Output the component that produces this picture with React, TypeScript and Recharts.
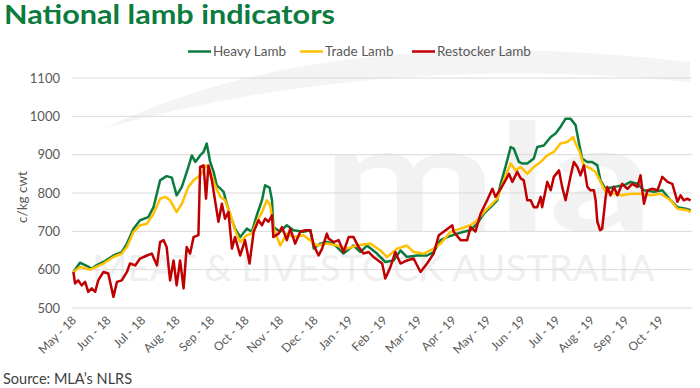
import React from "react";
import { LineChart, Line, XAxis, YAxis, CartesianGrid } from "recharts";

// Month tick labels (x = months since 1 May 2018)
const monthLabels = [
  "May - 18", "Jun - 18", "Jul - 18", "Aug - 18", "Sep - 18", "Oct - 18",
  "Nov - 18", "Dec - 18", "Jan - 19", "Feb - 19", "Mar - 19", "Apr - 19",
  "May - 19", "Jun - 19", "Jul - 19", "Aug - 19", "Sep - 19", "Oct - 19",
];
const monthTicks = monthLabels.map((_, i) => i);
const yTicks = [500, 600, 700, 800, 900, 1000, 1100];

// [months since May-18, c/kg cwt]
const heavyLamb: [number, number][] = [
  [0.04, 594], [0.23, 618], [0.38, 612], [0.57, 603], [0.72, 612], [0.91, 620], [1.2, 637], [1.44, 646],
  [1.59, 668], [1.78, 707], [1.97, 729], [2.21, 737], [2.36, 763], [2.55, 833], [2.74, 844], [2.89, 840],
  [3.03, 794], [3.18, 816], [3.37, 868], [3.47, 898], [3.57, 881], [3.71, 898], [3.81, 907], [3.9, 929],
  [4.0, 881], [4.1, 855], [4.19, 820], [4.29, 812], [4.39, 803], [4.48, 772], [4.58, 742], [4.72, 707],
  [4.87, 685], [5.06, 707], [5.21, 699], [5.35, 742], [5.5, 781], [5.59, 820], [5.72, 814], [5.79, 781],
  [5.83, 711], [6.03, 699], [6.22, 716], [6.41, 703], [6.7, 699], [6.9, 703], [7.0, 655], [7.19, 668],
  [7.38, 672], [7.57, 668], [7.86, 642], [8.15, 663], [8.35, 646], [8.54, 663], [8.83, 642], [9.07, 620],
  [9.31, 624], [9.51, 650], [9.7, 633], [9.99, 637], [10.28, 637], [10.47, 646], [10.67, 677], [10.86, 685],
  [11.15, 694], [11.34, 699], [11.54, 703], [11.73, 720], [11.92, 746], [12.12, 763], [12.31, 781], [12.41, 824],
  [12.55, 868], [12.7, 920], [12.79, 916], [12.94, 881], [13.03, 877], [13.18, 877], [13.37, 890], [13.47, 920],
  [13.66, 924], [13.86, 946], [14.0, 955], [14.14, 972], [14.29, 994], [14.43, 994], [14.58, 977], [14.68, 929],
  [14.77, 890], [14.92, 881], [15.06, 881], [15.21, 872], [15.3, 833], [15.45, 811], [15.69, 816], [15.98, 820],
  [16.17, 829], [16.37, 824], [16.56, 807], [16.85, 803], [17.09, 807], [17.33, 781], [17.53, 763], [17.77, 759],
  [17.91, 755],
];

const tradeLamb: [number, number][] = [
  [0.04, 594], [0.23, 607], [0.52, 600], [0.91, 616], [1.2, 633], [1.44, 642], [1.59, 659], [1.78, 698],
  [1.97, 716], [2.17, 720], [2.36, 746], [2.55, 785], [2.7, 790], [2.84, 781], [3.03, 750], [3.18, 772],
  [3.37, 816], [3.52, 833], [3.71, 846], [3.9, 872], [4.0, 859], [4.14, 820], [4.29, 790], [4.43, 781],
  [4.58, 746], [4.72, 703], [4.87, 672], [5.06, 690], [5.21, 694], [5.35, 725], [5.5, 750], [5.64, 781],
  [5.74, 768], [5.83, 711], [6.03, 663], [6.22, 694], [6.41, 685], [6.7, 690], [7.09, 663], [7.38, 668],
  [7.67, 663], [7.96, 655], [8.25, 663], [8.64, 668], [8.93, 650], [9.12, 633], [9.41, 655], [9.7, 663],
  [9.89, 646], [10.18, 642], [10.47, 655], [10.67, 668], [10.96, 699], [11.25, 707], [11.54, 716], [11.73, 729],
  [11.92, 750], [12.17, 772], [12.31, 785], [12.5, 833], [12.7, 877], [12.84, 859], [12.99, 868], [13.18, 850],
  [13.37, 868], [13.57, 881], [13.76, 898], [13.95, 907], [14.14, 929], [14.34, 933], [14.51, 946], [14.58, 929],
  [14.68, 911], [14.82, 872], [15.01, 864], [15.16, 855], [15.3, 829], [15.45, 803], [15.69, 798], [15.93, 794],
  [16.17, 798], [16.46, 798], [16.75, 794], [17.04, 798], [17.33, 781], [17.53, 759], [17.82, 755], [17.91, 750],
];

const restockerLamb: [number, number][] = [
  [0.04, 594], [0.09, 564], [0.18, 572], [0.28, 559], [0.38, 568], [0.47, 542], [0.57, 551], [0.67, 542],
  [0.76, 572], [0.91, 594], [1.05, 590], [1.2, 529], [1.3, 568], [1.44, 572], [1.59, 594], [1.68, 616],
  [1.83, 611], [1.97, 629], [2.17, 637], [2.31, 642], [2.46, 611], [2.55, 672], [2.65, 677], [2.74, 659],
  [2.84, 572], [2.94, 624], [3.03, 559], [3.13, 624], [3.23, 551], [3.32, 659], [3.42, 642], [3.52, 685],
  [3.66, 690], [3.71, 868], [3.81, 872], [3.88, 785], [3.95, 872], [4.05, 833], [4.14, 781], [4.24, 725],
  [4.34, 772], [4.43, 733], [4.53, 750], [4.63, 655], [4.72, 685], [4.87, 637], [5.01, 677], [5.14, 616],
  [5.26, 699], [5.4, 729], [5.5, 716], [5.59, 733], [5.69, 725], [5.79, 742], [5.83, 685], [5.98, 694],
  [6.08, 711], [6.22, 677], [6.32, 707], [6.46, 668], [6.61, 699], [6.75, 703], [6.9, 703], [7.0, 663],
  [7.14, 637], [7.24, 655], [7.38, 694], [7.43, 681], [7.57, 672], [7.72, 677], [7.86, 646], [8.01, 685],
  [8.15, 685], [8.3, 659], [8.44, 642], [8.59, 646], [8.73, 633], [8.98, 616], [9.07, 577], [9.22, 607],
  [9.36, 646], [9.51, 616], [9.7, 624], [9.89, 629], [10.09, 594], [10.28, 616], [10.47, 642], [10.62, 690],
  [10.76, 699], [11.01, 716], [11.05, 699], [11.25, 677], [11.44, 677], [11.54, 711], [11.68, 699], [11.83, 746],
  [11.92, 763], [12.02, 781], [12.17, 811], [12.26, 790], [12.41, 811], [12.55, 833], [12.65, 850], [12.75, 829],
  [12.89, 855], [12.99, 838], [13.08, 833], [13.18, 781], [13.28, 781], [13.37, 763], [13.47, 763], [13.57, 790],
  [13.61, 763], [13.76, 829], [13.86, 807], [13.95, 842], [14.1, 859], [14.19, 816], [14.29, 781], [14.43, 842],
  [14.53, 881], [14.63, 868], [14.72, 846], [14.82, 872], [14.92, 816], [15.01, 807], [15.11, 807], [15.16, 781],
  [15.21, 725], [15.29, 703], [15.35, 707], [15.45, 790], [15.5, 816], [15.59, 794], [15.69, 816], [15.79, 794],
  [15.93, 824], [16.08, 811], [16.22, 824], [16.37, 816], [16.46, 846], [16.56, 772], [16.66, 807], [16.8, 811],
  [16.95, 807], [17.09, 842], [17.24, 829], [17.38, 824], [17.53, 777], [17.62, 794], [17.71, 781], [17.81, 785],
  [17.91, 781],
];

const seriesNames = ["Heavy Lamb", "Trade Lamb", "Restocker Lamb"];
const seriesColors = ["#0B7B3E", "#FFC000", "#C00000"];

const toRows = (s: [number, number][]) => s.map(([m, v]) => ({ m, v }));

const FONT = "Lato, 'Open Sans', sans-serif";
const TEXT = "#595959";

function XTick(props: any) {
  const { x, y, payload } = props;
  const ax = x + 5;
  const ay = y + 5;
  return (
    <text
      x={ax}
      y={ay}
      transform={`rotate(-45 ${ax} ${ay})`}
      textAnchor="end"
      fontSize={12}
      fill={TEXT}
      fontFamily={FONT}
    >
      {monthLabels[payload.value]}
    </text>
  );
}

function YTick(props: any) {
  const { x, y, payload } = props;
  return (
    <text x={x - 4} y={y + 4.5} textAnchor="end" fontSize={13} fill={TEXT} fontFamily={FONT}>
      {payload.value}
    </text>
  );
}

function Backdrop() {
  const legendX = [188, 300, 412];
  return (
    <svg width={700} height={388} style={{ position: "absolute", left: 0, top: 0 }}>
      {/* watermark */}
      <path d="M 105 128 Q 330 20 690 62 L 690 82 Q 380 52 105 128 Z" fill="#f4f4f4" />
      <text
        x={322}
        y={231}
        fontSize={150}
        fontWeight={700}
        fontFamily={FONT}
        fill="#f2f2f2"
        textLength={332}
        lengthAdjust="spacingAndGlyphs"
      >
        mla
      </text>
      <text
        x={92}
        y={281}
        fontSize={36}
        fontFamily={FONT}
        fill="#efefef"
        textLength={563}
        lengthAdjust="spacingAndGlyphs"
      >
        MEAT &amp; LIVESTOCK AUSTRALIA
      </text>

      {/* title */}
      <text
        x={4}
        y={24}
        fontSize={26}
        fontWeight={700}
        fill="#0B7B3E"
        fontFamily={FONT}
        textLength={331}
        lengthAdjust="spacingAndGlyphs"
      >
        National lamb indicators
      </text>

      {/* legend */}
      {seriesNames.map((n, i) => (
        <g key={n}>
          <line x1={legendX[i]} x2={legendX[i] + 23} y1={51.5} y2={51.5} stroke={seriesColors[i]} strokeWidth={2.5} />
          <text x={legendX[i] + 25} y={56} fontSize={13.5} fill={TEXT} fontFamily={FONT}>
            {n}
          </text>
        </g>
      ))}

      {/* y-axis title */}
      <text
        x={0}
        y={0}
        transform="translate(27 197) rotate(-90)"
        textAnchor="middle"
        fontSize={13.5}
        fill={TEXT}
        fontFamily={FONT}
      >
        c/kg cwt
      </text>

      {/* source */}
      <text x={3} y={384} fontSize={14.5} fill="#404040" fontFamily={FONT}>
        Source: MLA’s NLRS
      </text>
    </svg>
  );
}

export default function App() {
  return (
    <div
      style={{
        position: "absolute",
        left: 0,
        top: 0,
        width: 700,
        height: 388,
        background: "#ffffff",
        overflow: "hidden",
      }}
    >
      <Backdrop />
      <div style={{ position: "absolute", left: 0, top: 0 }}>
        <LineChart width={700} height={388} margin={{ top: 78, right: 8, bottom: 0, left: 12 }}>
          <CartesianGrid vertical={false} stroke="#d9d9d9" strokeWidth={1} />
          <XAxis
            type="number"
            dataKey="m"
            domain={[0, 17.95]}
            ticks={monthTicks}
            interval={0}
            axisLine={false}
            tickLine={false}
            height={80}
            tick={<XTick />}
            allowDataOverflow
          />
          <YAxis
            type="number"
            domain={[500, 1100]}
            ticks={yTicks}
            interval={0}
            axisLine={false}
            tickLine={false}
            width={60}
            tick={<YTick />}
            allowDataOverflow
          />
          <Line
            data={toRows(heavyLamb)}
            dataKey="v"
            name={seriesNames[0]}
            stroke={seriesColors[0]}
            strokeWidth={2.5}
            dot={false}
            activeDot={false}
            isAnimationActive={false}
            strokeLinejoin="round"
          />
          <Line
            data={toRows(tradeLamb)}
            dataKey="v"
            name={seriesNames[1]}
            stroke={seriesColors[1]}
            strokeWidth={2.5}
            dot={false}
            activeDot={false}
            isAnimationActive={false}
            strokeLinejoin="round"
          />
          <Line
            data={toRows(restockerLamb)}
            dataKey="v"
            name={seriesNames[2]}
            stroke={seriesColors[2]}
            strokeWidth={2.5}
            dot={false}
            activeDot={false}
            isAnimationActive={false}
            strokeLinejoin="round"
          />
        </LineChart>
      </div>
    </div>
  );
}
